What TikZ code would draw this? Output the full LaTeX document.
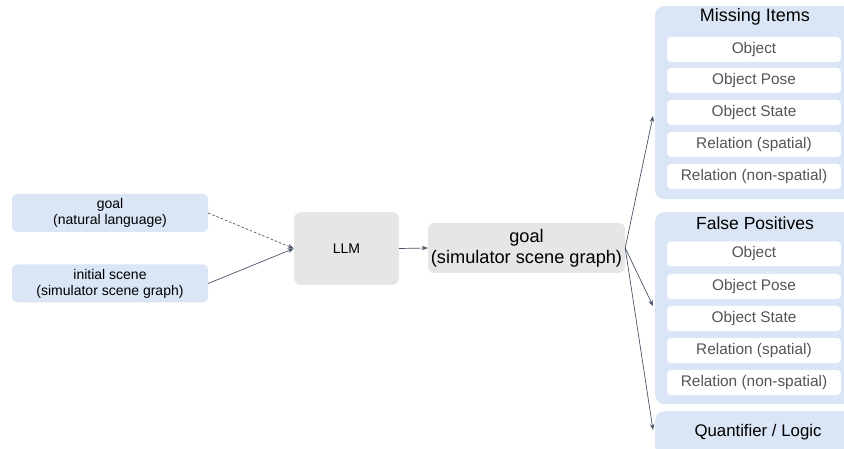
\documentclass[tikz,border=0pt]{standalone}
\usepackage{fontspec}
\setmainfont{Liberation Sans}
\usetikzlibrary{arrows.meta,calc}
\definecolor{lblue}{HTML}{DAE5F6}
\definecolor{lgray}{HTML}{E6E6E6}
\definecolor{itemtxt}{HTML}{555555}
\definecolor{arr}{HTML}{4A5366}
\tikzset{
  inbox/.style={fill=lblue, rounded corners=5pt, inner sep=0pt, minimum width=196pt, minimum height=38pt, align=center, font=\fontsize{14}{16}\selectfont},
  graybox/.style={fill=lgray, rounded corners=7pt, inner sep=0pt, align=center},
  grp/.style={fill=lblue, rounded corners=9pt, inner sep=0pt},
  item/.style={fill=white, rounded corners=4pt, inner sep=0pt, minimum width=174pt, minimum height=25pt, text=itemtxt, font=\fontsize{15.4}{17}\selectfont},
  hdr/.style={inner sep=0pt, font=\fontsize{17.5}{20}\selectfont},
  conn/.style={draw=arr, line width=0.7pt, -{Stealth[length=6pt,width=4.5pt]}},
}
\begin{document}
\begin{tikzpicture}[x=1pt,y=-1pt]
\useasboundingbox (0,0) rectangle (844,449);
\clip (0,0) rectangle (844,449);
% left inputs
\node[inbox] (g) at (110,213) {goal\\(natural language)};
\node[inbox] (s) at (110,283.5) {initial scene\\(simulator scene graph)};
% LLM
\node[graybox, minimum width=105pt, minimum height=73pt, font=\fontsize{14}{16}\selectfont] (llm) at (346.5,248.5) {LLM};
% goal sim
\node[graybox, rounded corners=6pt, minimum width=197pt, minimum height=50pt, font=\fontsize{18.2}{21}\selectfont] (gs) at (526.5,248) {goal\\(simulator scene graph)};
% Missing items group
\node[grp, minimum width=200pt, minimum height=193pt, anchor=north west] (mi) at (655,6) {};
\node[hdr, font=\fontsize{18}{20}\selectfont] (mih) at (755,17) {Missing Items};
\node[item] (m1) at (754,49.5) {Object};
\node[item] (m2) at (754,80.5) {Object Pose};
\node[item] (m3) at (754,112.5) {Object State};
\node[item] (m4) at (754,144.5) {Relation (spatial)};
\node[item] (m5) at (754,176.5) {Relation (non-spatial)};
% False positives group
\node[grp, minimum width=200pt, minimum height=192pt, anchor=north west] (fp) at (655,212) {};
\node[hdr] (fph) at (755,223) {False Positives};
\node[item] (f1) at (754,254) {Object};
\node[item] (f2) at (754,286.5) {Object Pose};
\node[item] (f3) at (754,318.5) {Object State};
\node[item] (f4) at (754,350.5) {Relation (spatial)};
\node[item] (f5) at (754,382.5) {Relation (non-spatial)};
% Quantifier
\node[grp, minimum width=200pt, minimum height=44pt, anchor=north west] (q) at (655,411) {};
\node[hdr, font=\fontsize{16.8}{20}\selectfont] (qh) at (758,432) {Quantifier / Logic};
% targets
\coordinate (mit) at (653,116);
\coordinate (fpt) at (653,306);
\coordinate (qt) at (653,430);
% connectors
\draw[conn, dashed, dash pattern=on 2.5pt off 2pt] (g.east) -- (llm.west);
\draw[conn] (s.east) -- (llm.west);
\draw[conn] (llm.east) -- (gs.west);
\draw[conn] (gs.east) -- (mit);
\draw[conn] (gs.east) -- (fpt);
\draw[conn] (gs.east) -- (qt);
\end{tikzpicture}
\end{document}
